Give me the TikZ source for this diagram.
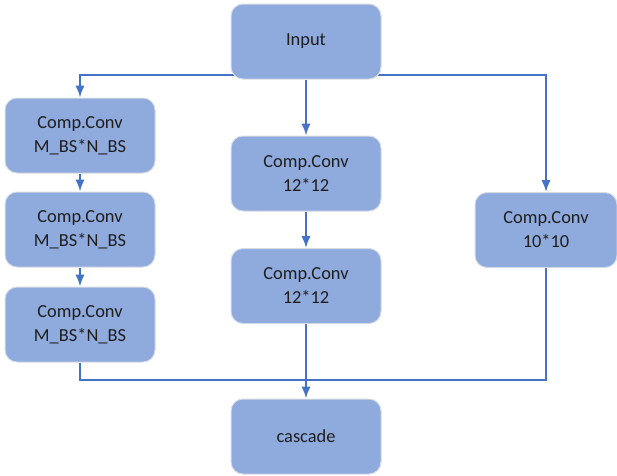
\documentclass[tikz,border=0pt]{standalone}
\usepackage{fontspec}
\setmainfont{Carlito}
\usepackage{xcolor}
\usepackage{tikz}
\usetikzlibrary{backgrounds}
\usetikzlibrary{arrows.meta}
\definecolor{blockblue}{HTML}{8FAADC}
\definecolor{lineblue}{HTML}{4472C4}
\definecolor{rimgray}{HTML}{D6DCE6}
\tikzset{
  Block/.style={draw=rimgray, line width=.75pt, fill=blockblue, rounded corners=9pt,
    minimum width=112.5pt, minimum height=56.25pt, inner sep=0pt,
    align=center, text=black!88, font=\fontsize{13.8}{18}\selectfont}, % Kaesten
  Linie/.style={draw=lineblue, line width=1.5pt}, % Leitungen
  Pfeil/.style={Linie, -{Latex[length=9pt,width=7pt]}} % Leitungen mit Spitze
}

\begin{document}
\begin{tikzpicture}[x=0.75pt, y=-0.75pt]
\useasboundingbox (0,0) rectangle (617,475);

%Kaesten
\node[Block] (in) at (306,41.5) {Input};
\node[Block] (l1) at (80,135.5) {Comp.Conv\\M\_BS*N\_BS};
\node[Block] (l2) at (80,229.5) {Comp.Conv\\M\_BS*N\_BS};
\node[Block] (l3) at (80,324.5) {Comp.Conv\\M\_BS*N\_BS};
\node[Block] (m1) at (306,173.5) {Comp.Conv\\12*12};
\node[Block] (m2) at (306,286) {Comp.Conv\\12*12};
\node[Block, minimum width=106.5pt] (r) at (546,230) {Comp.Conv\\10*10};
\node[Block] (ca) at (306,436.5) {cascade};

\coordinate (join) at (306,380);

%Leitungen
\begin{scope}[on background layer]
\draw[Pfeil] ([yshift=3.5pt]in.south) -| (l1);
\draw[Pfeil] ([yshift=3.5pt]in.south) -| (r);
\draw[Pfeil] (in) -- (m1);
\draw[Pfeil] (m1) -- (m2);
\draw[Pfeil] (m2) -- (ca);
\draw[Pfeil] (l1) -- (l2);
\draw[Pfeil] (l2) -- (l3);
\draw[Linie] (l3) |- (join) -| (r);
\end{scope}

\end{tikzpicture}
\end{document}
